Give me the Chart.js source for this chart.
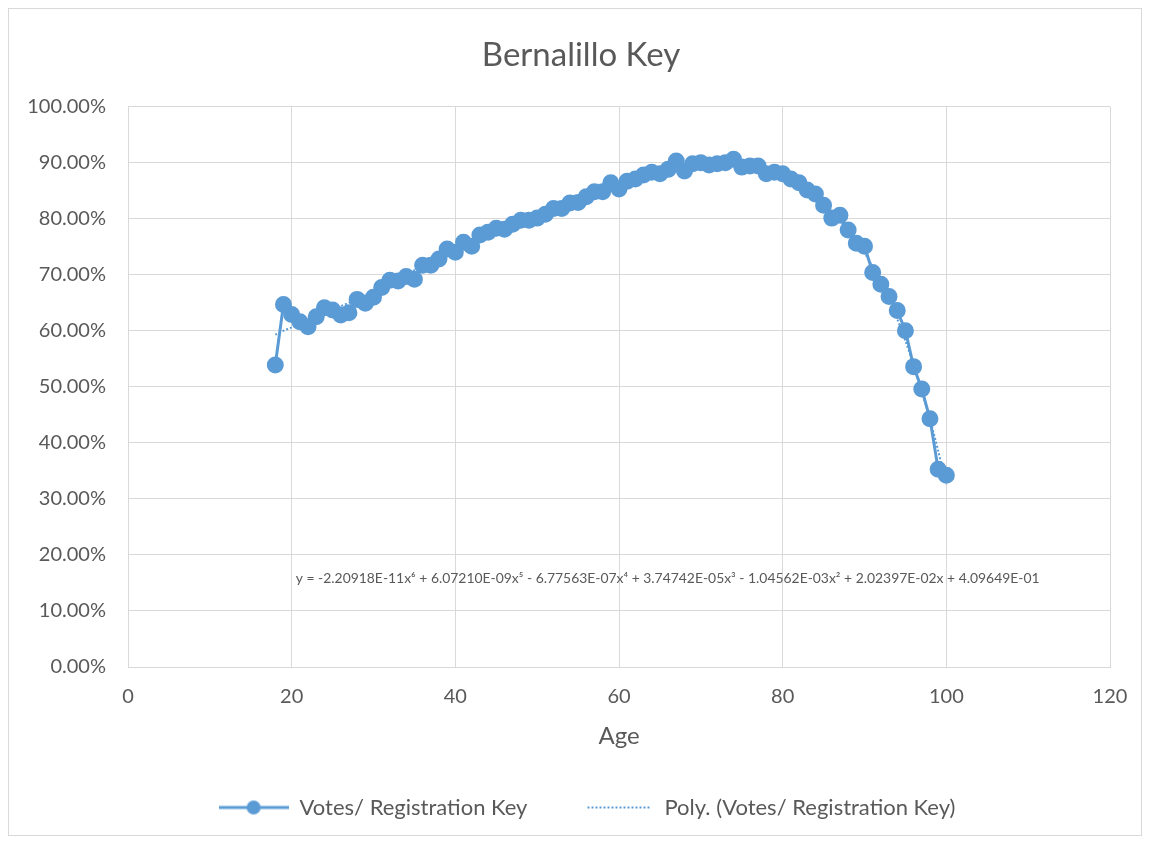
<!DOCTYPE html>
<html><head><meta charset="utf-8">
<script src="https://cdn.jsdelivr.net/npm/chart.js@4.4.1/dist/chart.umd.min.js"></script>
<style>
html,body{margin:0;padding:0;background:#fff;}
#wrap{position:absolute;left:0;top:0;width:1151px;height:842px;}
#frame{position:absolute;left:8px;top:8px;width:1134px;height:828px;border:1px solid #D9D9D9;box-sizing:border-box;pointer-events:none;}
</style></head><body>
<div id="wrap"><canvas id="c" width="1151" height="842"></canvas></div>
<div id="frame"></div>
<script>
const chartTitle = "Bernalillo Key";
const xTitle = "Age";
const seriesName = "Votes/ Registration Key";
const trendName = "Poly. (Votes/ Registration Key)";
const equation = "y = -2.20918E-11x\u2076 + 6.07210E-09x\u2075 - 6.77563E-07x\u2074 + 3.74742E-05x\u00B3 - 1.04562E-03x\u00B2 + 2.02397E-02x + 4.09649E-01";

const ages = [18,19,20,21,22,23,24,25,26,27,28,29,30,31,32,33,34,35,36,37,38,39,40,41,42,43,44,45,46,47,48,49,50,51,52,53,54,55,56,57,58,59,60,61,62,63,64,65,66,67,68,69,70,71,72,73,74,75,76,77,78,79,80,81,82,83,84,85,86,87,88,89,90,91,92,93,94,95,96,97,98,99,100];
const votesPct = [53.9,64.7,62.9,61.6,60.7,62.5,64.1,63.7,62.8,63.2,65.6,64.9,66.0,67.7,69.0,68.9,69.7,69.2,71.7,71.7,72.8,74.6,74.0,75.8,75.1,77.1,77.6,78.3,78.1,79.0,79.7,79.7,80.1,80.8,81.8,81.8,82.8,82.9,83.9,84.8,84.8,86.4,85.3,86.7,87.1,87.8,88.3,88.0,88.8,90.3,88.5,89.8,90.0,89.6,89.8,90.0,90.6,89.2,89.4,89.4,88.0,88.3,88.0,87.1,86.4,85.1,84.4,82.4,80.1,80.6,78.0,75.6,75.1,70.4,68.3,66.1,63.6,60.0,53.6,49.6,44.3,35.3,34.2];
const trendPct = [59.3,60.0,60.6,61.2,61.8,62.5,63.1,63.7,64.4,65.0,65.7,66.3,67.0,67.8,68.5,69.3,70.0,70.8,71.5,72.2,72.9,73.5,74.1,74.8,75.5,76.2,76.9,77.6,78.3,78.9,79.6,80.3,80.9,81.5,82.1,82.7,83.3,83.8,84.4,84.9,85.4,85.9,86.4,86.8,87.2,87.6,88.0,88.3,88.6,88.9,89.1,89.3,89.5,89.6,89.6,89.6,89.6,89.5,89.3,89.0,88.7,88.2,87.7,87.0,86.2,85.2,84.1,82.8,81.3,79.6,77.8,75.9,73.9,71.4,68.6,65.6,62.1,58.2,53.9,49.2,44.2,38.6,32.5];
const xTicks = [0,20,40,60,80,100,120];
const yTicks = [0,10,20,30,40,50,60,70,80,90,100];

const blue = '#5B9BD5';
const FONT = 'Lato, "Open Sans", sans-serif';
const grey = '#595959';

function legendIcon(dotted){
  const c = document.createElement('canvas');
  c.width = 70; c.height = 16;
  const g = c.getContext('2d');
  g.strokeStyle = blue;
  if(dotted){ g.lineWidth = 2; g.setLineDash([2,2]); g.beginPath(); g.moveTo(4,8); g.lineTo(66,8); g.stroke(); }
  else { g.lineWidth = 3; g.beginPath(); g.moveTo(0,8); g.lineTo(70,8); g.stroke();
    g.fillStyle = blue; g.beginPath(); g.arc(35,8,7,0,Math.PI*2); g.fill(); }
  return c;
}
const iconSolid = legendIcon(false), iconDot = legendIcon(true);

const eqPlugin = {
  id:'eq',
  afterLayout(chart){
    if(chart.legend){ chart.legend.left += 28; chart.legend.right += 28; }
    if(chart.titleBlock){ chart.titleBlock.left += 22; chart.titleBlock.right += 22; }
  },
  afterDatasetsDraw(chart){
    const ctx = chart.ctx, xs = chart.scales.x, ys = chart.scales.y;
    ctx.save();
    ctx.font = '13.9px ' + FONT;
    ctx.fillStyle = grey;
    ctx.textBaseline = 'middle';
    ctx.fillText(equation, xs.getPixelForValue(20.5), ys.getPixelForValue(15.8));
    ctx.restore();
  }
};

new Chart(document.getElementById('c'), {
  type:'line',
  data:{
    datasets:[
      {label:seriesName, data:ages.map((a,i)=>({x:a,y:votesPct[i]})), borderColor:blue, backgroundColor:blue, borderWidth:3, pointRadius:7, pointHoverRadius:7, pointBackgroundColor:blue, pointBorderColor:blue, tension:0, order:1},
      {label:trendName, data:ages.map((a,i)=>({x:a,y:trendPct[i]})), borderColor:blue, borderWidth:2, borderDash:[2,2], pointRadius:0, tension:0.3, order:2}
    ]
  },
  options:{
    responsive:false, animation:false,
    layout:{padding:{left:8,right:41,top:0,bottom:13.5}},
    plugins:{
      title:{display:true, text:chartTitle, color:grey, font:{family:FONT,size:33,weight:'normal'}, padding:{top:36,bottom:31}},
      legend:{position:'bottom', labels:{color:grey, font:{family:FONT,size:22}, usePointStyle:true, pointStyleWidth:70, padding:56,
        generateLabels(chart){
          return chart.data.datasets.map((d,i)=>({text:d.label, pointStyle: i===0?iconSolid:iconDot, fontColor:grey, datasetIndex:i, hidden:false, lineWidth:0, strokeStyle:'transparent', fillStyle:'transparent'}));
        }}},
      tooltip:{enabled:false}
    },
    scales:{
      x:{type:'linear', min:0, max:120,
        afterBuildTicks(s){ s.ticks = xTicks.map(v=>({value:v})); },
        afterFit(s){ s.height = 73.5; },
        ticks:{color:grey, font:{family:FONT,size:20}, padding:18},
        grid:{color:'#D9D9D9', lineWidth:1, drawTicks:false},
        border:{color:'#D9D9D9'},
        title:{display:true, text:xTitle, color:grey, font:{family:FONT,size:24}, padding:{top:0,bottom:-10}}
      },
      y:{type:'linear', min:0, max:100,
        afterBuildTicks(s){ s.ticks = yTicks.map(v=>({value:v})); },
        afterFit(s){ s.width = 120; },
        ticks:{color:grey, font:{family:FONT,size:20}, padding:22, callback:v=>v.toFixed(2)+'%'},
        grid:{color:'#D9D9D9', lineWidth:1, drawTicks:false},
        border:{color:'#D9D9D9'}
      }
    }
  },
  plugins:[eqPlugin]
});
</script>
</body></html>
